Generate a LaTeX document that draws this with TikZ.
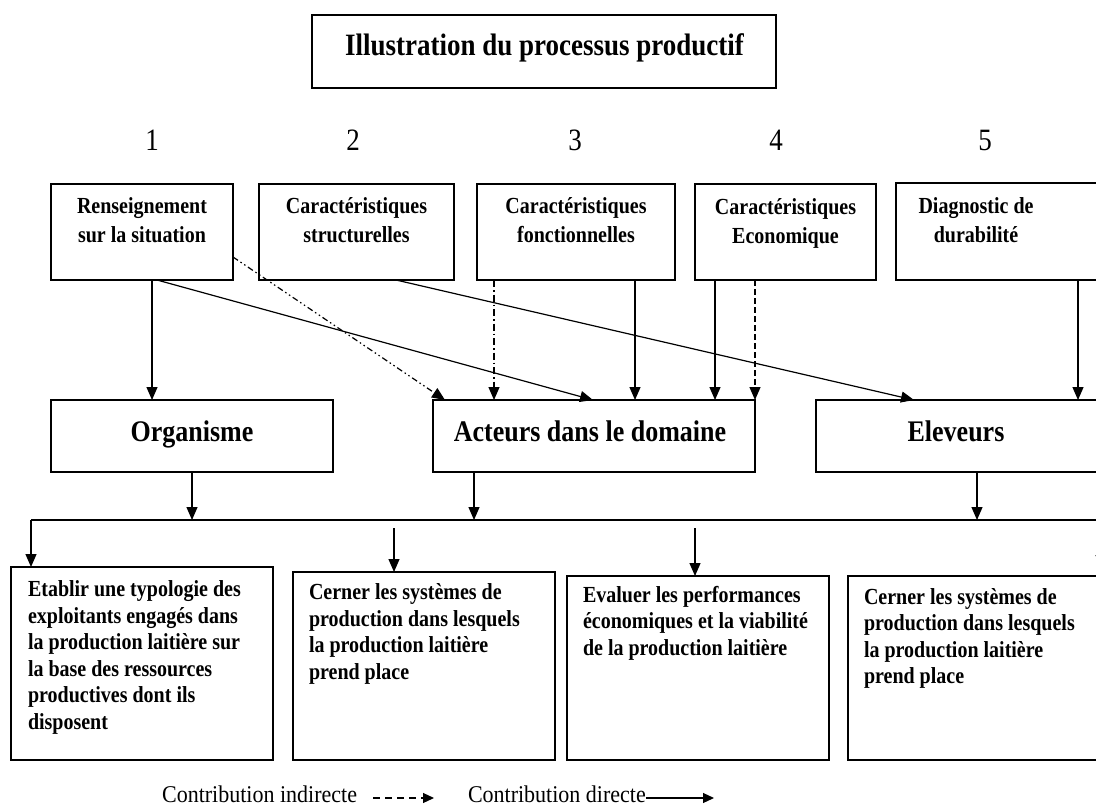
\documentclass[tikz,border=0pt]{standalone}
\usepackage{fontspec}
\setmainfont{Liberation Serif}
\usetikzlibrary{arrows.meta}
\begin{document}
\begin{tikzpicture}[x=1pt,y=-1pt,
  box/.style={draw, line width=1.3pt, inner sep=0pt, outer sep=0pt},
  lbl/.style={inner sep=0pt, outer sep=0pt, yscale=1.15},
  titletxt/.style={lbl, font=\fontsize{27}{30}\selectfont\bfseries},
  numtxt/.style={lbl, font=\fontsize{27}{30}\selectfont},
  toptxt/.style={lbl, align=center, font=\fontsize{20}{25.2}\selectfont\bfseries},
  midtxt/.style={lbl, font=\fontsize{26}{30}\selectfont\bfseries},
  bottxt/.style={lbl, align=left, anchor=west, font=\fontsize{20}{23}\selectfont\bfseries},
  legtxt/.style={lbl, yscale=0.95, font=\fontsize{22}{26}\selectfont},
  arr/.style={line width=1.2pt, -{Triangle[length=13pt,width=11pt]}},
  arrdash/.style={arr, dash pattern=on 6pt off 3pt},
  arrdd/.style={arr, dash pattern=on 6pt off 3pt on 1.5pt off 3pt on 1.5pt off 3pt},
  arrdot/.style={arr, dash pattern=on 7pt off 3pt on 1.5pt off 3pt},
  legarr/.style={line width=1.2pt, -{Triangle[length=11pt,width=10pt]}},
  line/.style={line width=1.2pt}
]
\useasboundingbox (0,0) rectangle (1096,809);
\clip (0,0) rectangle (1096,809);

% title
\node[box, minimum width=464pt, minimum height=73pt] (title) at (544,51.5) {};
\node[titletxt] (titletext) at (544.5,48) {Illustration du processus productif};

% numbers
\node[numtxt] (n1) at (152,140) {1};
\node[numtxt] (n2) at (353,140) {2};
\node[numtxt] (n3) at (575,140) {3};
\node[numtxt] (n4) at (776,140) {4};
\node[numtxt] (n5) at (985,140) {5};

% top boxes
\node[box, minimum width=182pt, minimum height=96pt] (ren) at (142,232) {};
\node[box, minimum width=195pt, minimum height=96pt] (str) at (356.5,232) {};
\node[box, minimum width=198pt, minimum height=96pt] (fon) at (576,232) {};
\node[box, minimum width=181pt, minimum height=96pt] (eco) at (785.5,232) {};
\node[box, minimum width=206pt, minimum height=97pt] (dia) at (999,231.5) {};
\node[toptxt] (rentxt) at (142,220.5) {Renseignement\\sur la situation};
\node[toptxt] (strtxt) at (356.5,220.5) {Caractéristiques\\structurelles};
\node[toptxt] (fontxt) at (576,220.5) {Caractéristiques\\fonctionnelles};
\node[toptxt] (ecotxt) at (785.5,223) {Caractéristiques\\Economique};
\node[toptxt] (diatxt) at (976,220) {Diagnostic de\\durabilité};

% middle boxes
\node[box, minimum width=282pt, minimum height=72pt] (org) at (192,436) {};
\node[box, minimum width=322pt, minimum height=72pt] (act) at (594,436) {};
\node[box, minimum width=286pt, minimum height=72pt] (ele) at (959,436) {};
\node[midtxt] (orgtxt) at (192,434) {Organisme};
\node[midtxt] (acttxt) at (590,431) {Acteurs dans le domaine};
\node[midtxt] (eletxt) at (956,431) {Eleveurs};

% bottom boxes
\node[box, minimum width=262pt, minimum height=193pt] (b1) at (142,663.5) {};
\node[box, minimum width=262pt, minimum height=188pt] (b2) at (424,666) {};
\node[box, minimum width=262pt, minimum height=184pt] (b3) at (698,668) {};
\node[box, minimum width=254pt, minimum height=184pt] (b4) at (975,668) {};
\node[bottxt] (b1txt) at (28,657.5) {Etablir une typologie des\\exploitants engagés dans\\la production laitière sur\\la base des ressources\\productives dont ils\\disposent};
\node[bottxt] (b2txt) at (309,634) {Cerner les systèmes de\\production dans lesquels\\la production laitière\\prend place};
\node[bottxt] (b3txt) at (583,623) {Evaluer les performances\\économiques et la viabilité\\de la production laitière};
\node[bottxt] (b4txt) at (864,638.5) {Cerner les systèmes de\\production dans lesquels\\la production laitière\\prend place};

% helper coordinates (x positions / y positions)
\coordinate (xa) at (152,0);
\coordinate (xb) at (157,0);
\coordinate (xc) at (593,0);
\coordinate (yd) at (0,257);
\coordinate (xe) at (445,0);
\coordinate (xf) at (396,0);
\coordinate (xg) at (914,0);
\coordinate (xh) at (494,0);
\coordinate (xi) at (635,0);
\coordinate (xj) at (715,0);
\coordinate (xk) at (755,0);
\coordinate (xl) at (1078,0);
\coordinate (xm) at (192,0);
\coordinate (xn) at (474,0);
\coordinate (xo) at (977,0);
\coordinate (hl) at (31,520);
\coordinate (hr) at (1100,520);
\coordinate (s2) at (394,528);
\coordinate (s3) at (695,528);
\coordinate (s4) at (1101,528);
\coordinate (s4e) at (1101,568);

% top -> middle
\draw[arr] (ren.south -| xa) -- (org.north -| xa);
\draw[arr] (ren.south -| xb) -- (act.north -| xc);
\draw[arrdd] (ren.east |- yd) -- (act.north -| xe);
\draw[arr] (str.south -| xf) -- (ele.north -| xg);
\draw[arrdot] (fon.south -| xh) -- (act.north -| xh);
\draw[arr] (fon.south -| xi) -- (act.north -| xi);
\draw[arr] (eco.south -| xj) -- (act.north -| xj);
\draw[arrdash] (eco.south -| xk) -- (act.north -| xk);
\draw[arr] (dia.south -| xl) -- (ele.north -| xl);

% middle -> line
\draw[arr] (org.south -| xm) -- (hl -| xm);
\draw[arr] (act.south -| xn) -- (hl -| xn);
\draw[arr] (ele.south -| xo) -- (hl -| xo);
\draw[line] (hl) -- (hr);

% line -> bottom
\draw[arr] (hl) -- (b1.north -| hl);
\draw[arr] (s2) -- (b2.north -| s2);
\draw[arr] (s3) -- (b3.north -| s3);
\draw[arr] (s4) -- (s4e);

% legend
\node[legtxt, anchor=east] (legind) at (357,794) {Contribution indirecte};
\node[legtxt, anchor=west] (legdir) at (468,794) {Contribution directe};
\coordinate (la1) at (373,798);
\coordinate (la2) at (434,798);
\coordinate (lb2) at (714,798);
\draw[legarr, dash pattern=on 7pt off 5pt] (la1) -- (la2);
\draw[legarr] (legdir.east |- lb2) -- (lb2);
\end{tikzpicture}
\end{document}
